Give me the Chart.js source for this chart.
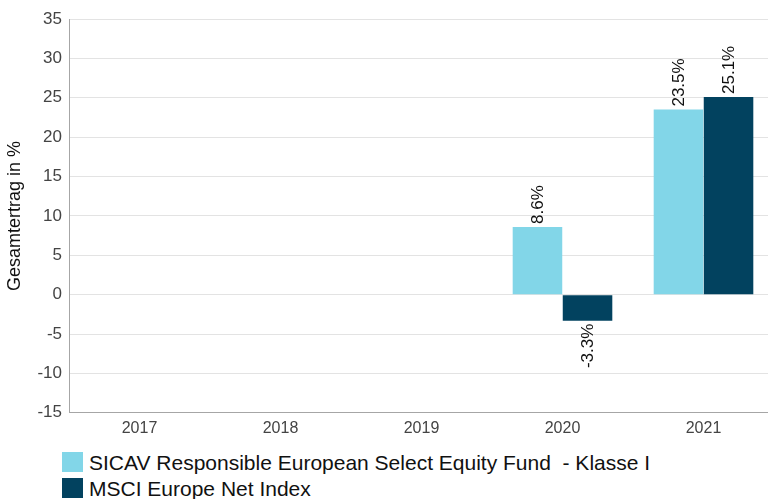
<!DOCTYPE html>
<html>
<head>
<meta charset="utf-8">
<script src="https://cdn.jsdelivr.net/npm/chart.js@4/dist/chart.umd.min.js"></script>
<style>
  html, body { margin:0; padding:0; background:#fff; overflow:hidden; width:768px; height:499px; }
  #wrap { position:relative; width:768px; height:499px; overflow:hidden; font-family:Arial, "Liberation Sans", sans-serif; }
  #chart { position:absolute; left:0; top:0; }
  .legend { position:absolute; left:62px; top:449px; }
  .legend-item { display:flex; align-items:center; height:26px; font-size:21px; color:#111; white-space:pre; }
  .legend-box { width:21px; height:20px; margin-right:6px; flex:none; }
  .legend-item span { position:relative; top:1px; }
</style>
</head>
<body>
<div id="wrap">
  <canvas id="chart" width="776" height="448"></canvas>
  <div class="legend" id="legend"></div>
</div>
<script>
// chart data
const years = ['2017', '2018', '2019', '2020', '2021'];
const fundValues = [null, null, null, 8.6, 23.5];
const indexValues = [null, null, null, -3.3, 25.1];
const seriesNames = ['SICAV Responsible European Select Equity Fund  - Klasse I', 'MSCI Europe Net Index'];
const seriesColors = ['#82d6e8', '#02425f'];
const yTicks = [-15, -10, -5, 0, 5, 10, 15, 20, 25, 30, 35];

const FONT = 'Arial, "Liberation Sans", sans-serif';

// rotated value labels on the bars
const barLabels = {
  id: 'barLabels',
  afterDatasetsDraw(chart){
    const ctx = chart.ctx;
    ctx.save();
    ctx.font = '17px ' + FONT;
    ctx.fillStyle = '#111';
    ctx.textBaseline = 'middle';
    chart.data.datasets.forEach((ds, i)=>{
      chart.getDatasetMeta(i).data.forEach((bar, j)=>{
        const v = ds.data[j];
        if(v === null || v === undefined) return;
        const txt = v.toFixed(1) + '%';
        ctx.save();
        if(v >= 0){
          ctx.translate(bar.x, bar.y - 3);
          ctx.textAlign = 'left';
        } else {
          ctx.translate(bar.x, bar.y + 3);
          ctx.textAlign = 'right';
        }
        ctx.rotate(-Math.PI/2);
        ctx.fillText(txt, 0, 1);
        ctx.restore();
      });
    });
    ctx.restore();
  }
};

const chart = new Chart(document.getElementById('chart'), {
  type:'bar',
  data:{
    labels: years,
    datasets:[
      { label: seriesNames[0], data: fundValues, backgroundColor: seriesColors[0], categoryPercentage:0.71, barPercentage:0.99 },
      { label: seriesNames[1], data: indexValues, backgroundColor: seriesColors[1], categoryPercentage:0.71, barPercentage:0.99 }
    ]
  },
  options:{
    responsive:false,
    animation:false,
    layout:{ padding:{ top:19, right:2, bottom:4, left:0 } },
    plugins:{ legend:{ display:false }, tooltip:{ enabled:false } },
    scales:{
      x:{
        grid:{ display:false, drawTicks:false },
        border:{ color:'#a6a6a6', width:1 },
        ticks:{ color:'#444', padding:6, font:{ family:FONT, size:16 } }
      },
      y:{
        min:-15, max:35,
        afterBuildTicks(s){ s.ticks = yTicks.map(v=>({ value:v })); },
        afterFit(s){ s.width = 69; },
        grid:{ color:'#e3e3e3', drawTicks:false },
        border:{ color:'#a6a6a6', width:1 },
        ticks:{ color:'#444', padding:7, font:{ family:FONT, size:17 } },
        title:{ display:true, text:'Gesamtertrag in %', color:'#111', padding:{ top:4, bottom:0 }, font:{ family:FONT, size:18 } }
      }
    }
  },
  plugins:[barLabels]
});

// legend below the chart
const legendEl = document.getElementById('legend');
chart.data.datasets.forEach(ds=>{
  const row = document.createElement('div');
  row.className = 'legend-item';
  row.innerHTML = `<div class="legend-box" style="background:${ds.backgroundColor}"></div><span></span>`;
  row.querySelector('span').textContent = ds.label;
  legendEl.appendChild(row);
});
</script>
</body>
</html>
